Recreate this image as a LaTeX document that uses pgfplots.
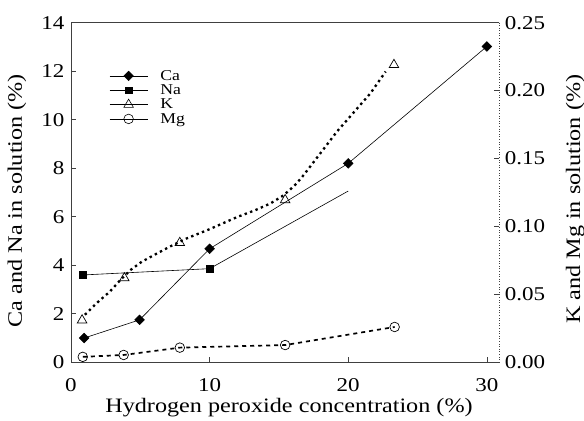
\documentclass[border=0pt]{standalone}
\usepackage{pgfplots}
\pgfplotsset{compat=1.18}
\usepackage{fontspec}
\setmainfont{Liberation Serif}[FakeStretch=1.18]
\begin{document}
\begin{tikzpicture}
\path[use as bounding box] (0,0) rectangle (584bp,421bp);
\pgfplotsset{
  common/.style={
    scale only axis, width=428.3bp, height=339.6bp,
    at={(71bp,58.7bp)}, anchor=south west,
    xmin=0, xmax=30.9,
    tick align=inside, major tick length=5bp,
    tick style={black!75, line width=0.6pt},
    /pgf/number format/assume math mode=true,
    ticklabel style={font=\fontsize{19.5bp}{22bp}\selectfont},
    label style={font=\fontsize{20.5bp}{24bp}\selectfont},
    clip=false,
  }
}
\begin{axis}[common,
  ymin=0, ymax=14,
  axis x line*=bottom, axis y line*=left,
  axis line style={-, black!75, line width=0.6pt},
  xtick={0,10,20,30}, ytick={0,2,...,14},
  xticklabel style={yshift=-13bp},
  yticklabel style={xshift=-3bp},
  xlabel={Hydrogen peroxide concentration (\%)},
  ylabel={Ca and Na in solution (\%)},
  xlabel style={at={(axis description cs:0.509,-0.1346)}, anchor=center},
  ylabel style={at={(axis description cs:-0.126,0.476)}, anchor=center, rotate=0},
  legend style={draw=none, fill=none, at={(axis description cs:0.082,0.868)}, anchor=north west,
    font=\fontsize{15bp}{15bp}\selectfont, row sep=2bp, column sep=12bp, nodes={inner sep=0.5bp}},
  legend cell align=left,
  legend image code/.code={\draw[mark repeat=2,mark phase=2] plot coordinates {(0bp,0bp) (19bp,0bp) (38bp,0bp)};},
]
\draw[black!75, line width=0.6pt] (rel axis cs:0,1) -- (rel axis cs:1,1);
\addlegendimage{black, line width=0.6pt, mark=square*, mark size=3.3bp, mark options={rotate=45, solid}}
\addlegendentry[xshift=12bp]{Ca}
\addlegendimage{black, line width=0.6pt, mark=square*, mark size=3.3bp, mark options={solid}}
\addlegendentry[xshift=12bp]{Na}
\addlegendimage{black, line width=0.6pt, mark=triangle, mark size=5.5bp, mark options={solid, fill=white}}
\addlegendentry[xshift=12bp]{K}
\addlegendimage{black, line width=0.6pt, mark=o, mark size=4.8bp, mark options={solid, fill=white}}
\addlegendentry[xshift=12bp]{Mg}
% Ca
\addplot[black, line width=0.6pt, mark=square*, mark size=3.4bp, mark options={rotate=45}]
  coordinates {(0.95,1.0) (4.95,1.75) (10,4.68) (20,8.2) (30,13.02)};
% Na
\addplot[black, line width=0.6pt, mark=square*, mark size=3.5bp, mark indices={1,2}]
  coordinates {(0.85,3.6) (10,3.86) (20,7.06)};
\end{axis}
\begin{axis}[common,
  ymin=0, ymax=0.25,
  axis x line=none, axis y line*=right,
  axis line style={-, black!75, line width=0.6pt, dotted},
  ytick={0,0.05,0.10,0.15,0.20,0.25},
  yticklabel style={xshift=2bp, /pgf/number format/.cd, fixed, fixed zerofill, precision=2},
  ylabel={K and Mg in solution (\%)},
  ylabel style={at={(axis description cs:1.177,0.48)}, anchor=center, rotate=0},
]
% K fitted curve (dotted)
\addplot[black, line width=2.3bp, dash pattern=on 2.4bp off 3.4bp, no marks]
  coordinates {(1.0,0.035) (1.9,0.044) (2.8,0.052) (3.6,0.061) (4.3,0.068) (5.1,0.074) (6,0.079) (7.1,0.085) (8.3,0.091) (10,0.098) (12,0.107) (13.3,0.112) (14.4,0.117) (15.2,0.122) (15.8,0.127) (16.3,0.132) (16.8,0.138) (18,0.154) (19.2,0.170) (20.4,0.184) (21.6,0.198) (22.7,0.214)};
% K marks
\addplot[only marks, black, mark=triangle, mark size=5.5bp, mark options={line width=0.7pt, fill=white}]
  coordinates {(0.8,0.031) (3.85,0.062) (7.85,0.088) (15.45,0.1195) (23.3,0.219)};
% Mg
\addplot[black, line width=1.7bp, dash pattern=on 4bp off 4bp, mark=o, mark size=4.8bp, mark options={solid, line width=0.7pt}]
  coordinates {(0.85,0.004) (3.8,0.0054) (7.85,0.0108) (15.45,0.0127) (23.35,0.026)};
\end{axis}
\end{tikzpicture}
\end{document}
